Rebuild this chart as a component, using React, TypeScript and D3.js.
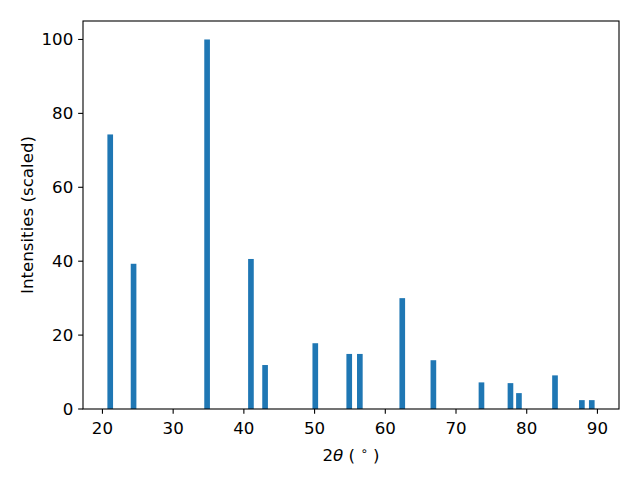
import React from "react";
import * as d3 from "d3";

const positions = [21.1, 24.4, 34.8, 41.0, 43.0, 50.1, 54.9, 56.4, 62.4, 66.8, 73.6, 77.7, 78.9, 84.0, 87.8, 89.2];
const intensities = [74.3, 39.3, 100, 40.6, 11.9, 17.8, 14.9, 14.9, 30.0, 13.2, 7.2, 7.0, 4.3, 9.1, 2.4, 2.4];
const xTicks = [20, 30, 40, 50, 60, 70, 80, 90];
const yTicks = [0, 20, 40, 60, 80, 100];
const barWidth = 0.8;

const W = 640, H = 480;
const L = 83, R = 619, T = 21, B = 409;
const FONT = "DejaVu Sans, sans-serif";
const FS = 16.67;

export default function App() {
  const x = d3.scaleLinear().domain([17.25, 93.05]).range([L, R]);
  const y = d3.scaleLinear().domain([0, 105]).range([B, T]);
  const tick = 4.86;
  return (
    <svg width={W} height={H} style={{ display: "block", position: "absolute", left: 0, top: 0 }} fontFamily={FONT}>
      <rect x={0} y={0} width={W} height={H} fill="#fff" />
      {positions.map((p, i) => (
        <rect key={i} x={x(p - barWidth / 2)} y={y(intensities[i])}
          width={x(p + barWidth / 2) - x(p - barWidth / 2)} height={y(0) - y(intensities[i])} fill="#1f77b4" />
      ))}
      <rect x={L} y={T} width={R - L} height={B - T} fill="none" stroke="#000" strokeWidth={1.1} />
      {xTicks.map((t) => (
        <g key={t}>
          <line x1={x(t)} x2={x(t)} y1={B} y2={B + tick} stroke="#000" strokeWidth={1.1} />
          <text x={x(t)} y={434} textAnchor="middle" fontSize={FS} fill="#000">{t}</text>
        </g>
      ))}
      {yTicks.map((t) => (
        <g key={t}>
          <line x1={L - tick} x2={L} y1={y(t)} y2={y(t)} stroke="#000" strokeWidth={1.1} />
          <text x={L - 2 * tick} y={y(t)} dy="0.36em" textAnchor="end" fontSize={FS} fill="#000">{t}</text>
        </g>
      ))}
      <text x={(L + R) / 2} y={461} textAnchor="middle" fontSize={FS} fill="#000">
        2<tspan fontStyle="italic">θ</tspan> ( <tspan fontSize={FS * 0.7} dy={-6}>∘</tspan><tspan dy={6}> )</tspan>
      </text>
      <text transform={`translate(33, ${(T + B) / 2}) rotate(-90)`} textAnchor="middle" fontSize={FS} fill="#000">
        Intensities (scaled)
      </text>
    </svg>
  );
}
